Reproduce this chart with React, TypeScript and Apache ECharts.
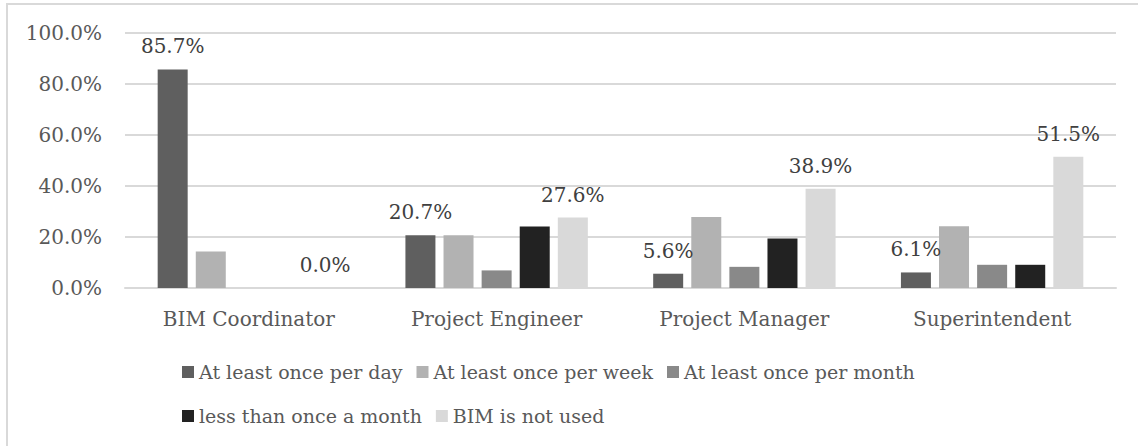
import React, { useEffect, useRef } from "react";
import * as echarts from "echarts";

const categories = ["BIM Coordinator", "Project Engineer", "Project Manager", "Superintendent"];
const seriesNames = [
  "At least once per day",
  "At least once per week",
  "At least once per month",
  "less than once a month",
  "BIM is not used",
];
const perDay = [85.7, 20.7, 5.6, 6.1];
const perWeek = [14.3, 20.7, 27.8, 24.2];
const perMonth = [0, 6.9, 8.3, 9.1];
const lessThanMonth = [0, 24.1, 19.4, 9.1];
const notUsed = [0, 27.6, 38.9, 51.5];
const yTicks = [0, 20, 40, 60, 80, 100];

const colors = ["#5f5f5f", "#b2b2b2", "#898989", "#222222", "#d9d9d9"];
const labeled = [true, false, false, false, true];
const FONT = "DejaVu Serif";

export default function App() {
  const ref = useRef<HTMLDivElement>(null);
  useEffect(() => {
    document.body.style.margin = "0";
    if (!ref.current) return;
    const chart = echarts.init(ref.current, null, { renderer: "svg" });
    const data = [perDay, perWeek, perMonth, lessThanMonth, notUsed];
    chart.setOption({
      animation: false,
      backgroundColor: "#ffffff",
      textStyle: { fontFamily: FONT },
      graphic: [
        {
          type: "rect",
          shape: { x: 7, y: 4, width: 1140, height: 450 },
          style: { fill: "none", stroke: "#d9d9d9", lineWidth: 2 },
          silent: true,
        },
      ],
      grid: { left: 125, right: 22, top: 33, bottom: 158, containLabel: false },
      legend: {
        left: 182,
        top: 357,
        width: 770,
        padding: 0,
        icon: "rect",
        itemWidth: 12,
        itemHeight: 12,
        itemGap: 14,
        textStyle: { fontFamily: FONT, fontSize: 19, color: "#595959", lineHeight: 30 },
        data: seriesNames,
      },
      xAxis: {
        type: "category",
        data: categories,
        axisLine: { show: true, lineStyle: { color: "#d9d9d9", width: 2 } },
        axisTick: { show: false },
        axisLabel: { fontFamily: FONT, fontSize: 20, color: "#595959", margin: 21 },
      },
      yAxis: {
        type: "value",
        min: yTicks[0],
        max: yTicks[yTicks.length - 1],
        interval: 20,
        axisLine: { show: false },
        axisTick: { show: false },
        splitLine: { lineStyle: { color: "#d9d9d9", width: 2 } },
        axisLabel: {
          fontFamily: FONT,
          fontSize: 20,
          color: "#595959",
          margin: 23,
          formatter: (v: number) => v.toFixed(1) + "%",
        },
      },
      series: seriesNames.map((name, i) => ({
        name,
        type: "bar",
        data: data[i],
        barWidth: 30,
        barGap: "27%",
        itemStyle: { color: colors[i] },
        label: {
          show: labeled[i],
          position: "top",
          distance: 13,
          fontFamily: FONT,
          fontSize: 20,
          color: "#404040",
          formatter: (p: any) => Number(p.value).toFixed(1) + "%",
        },
      })),
    });
    return () => chart.dispose();
  }, []);
  return <div ref={ref} style={{ width: 1138, height: 446 }} />;
}
